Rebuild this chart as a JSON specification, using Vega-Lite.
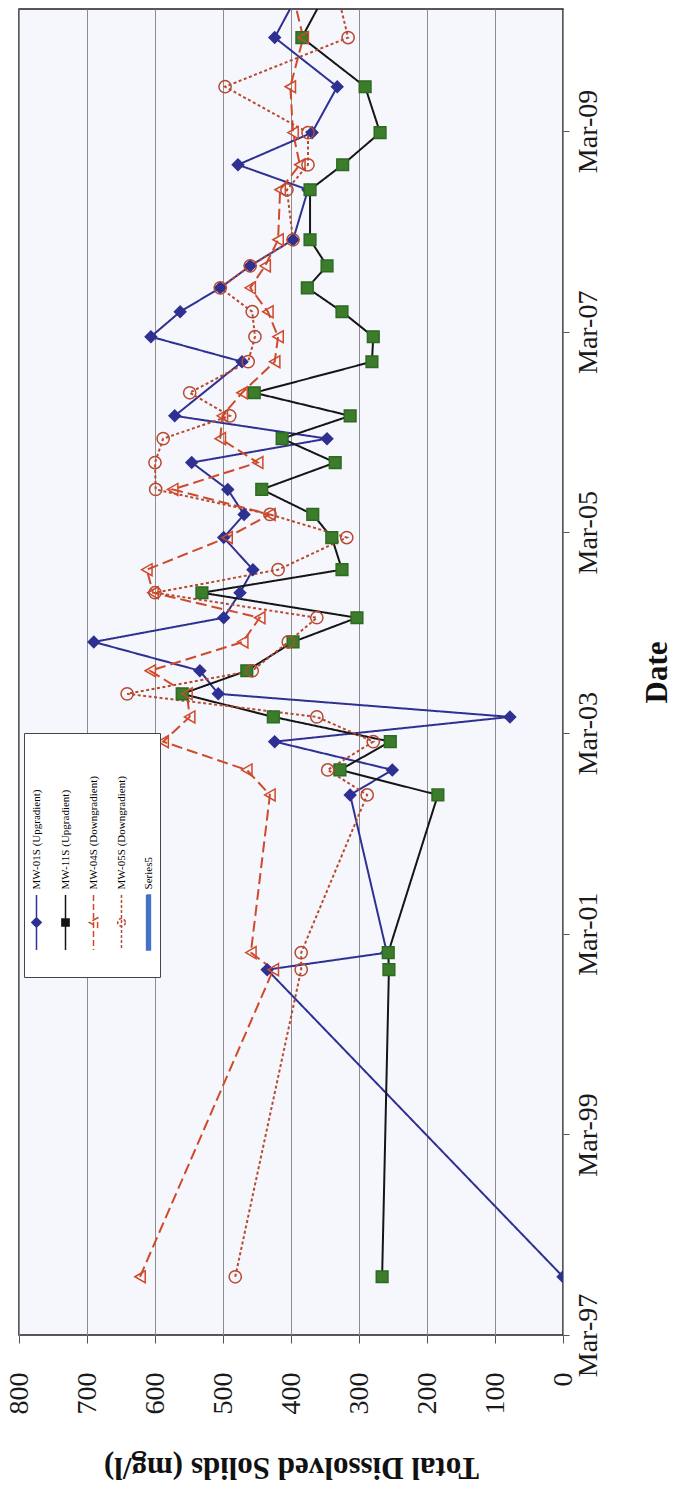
{
  "$schema": "https://vega.github.io/schema/vega-lite/v6.json",
  "autosize": {"type": "none"},
  "padding": {"left": 19, "top": 9, "right": 115, "bottom": 153},
  "width": 544,
  "height": 1326,
  "background": "white",
  "config": {
    "view": {"stroke": "#222222", "strokeWidth": 1.5, "fill": "#f6f7fc"},
    "font": "Liberation Serif"
  },
  "data": {"values": [
    {"s": "MW-01S (Upgradient)", "d": "1997-09-29", "v": 0},
    {"s": "MW-01S (Upgradient)", "d": "2000-10-21", "v": 435},
    {"s": "MW-01S (Upgradient)", "d": "2000-12-22", "v": 259},
    {"s": "MW-01S (Upgradient)", "d": "2002-07-19", "v": 313},
    {"s": "MW-01S (Upgradient)", "d": "2002-10-18", "v": 251},
    {"s": "MW-01S (Upgradient)", "d": "2003-01-29", "v": 424},
    {"s": "MW-01S (Upgradient)", "d": "2003-04-29", "v": 78},
    {"s": "MW-01S (Upgradient)", "d": "2003-07-22", "v": 507},
    {"s": "MW-01S (Upgradient)", "d": "2003-10-14", "v": 534},
    {"s": "MW-01S (Upgradient)", "d": "2004-01-27", "v": 690},
    {"s": "MW-01S (Upgradient)", "d": "2004-04-24", "v": 499},
    {"s": "MW-01S (Upgradient)", "d": "2004-07-24", "v": 475},
    {"s": "MW-01S (Upgradient)", "d": "2004-10-16", "v": 456},
    {"s": "MW-01S (Upgradient)", "d": "2005-02-10", "v": 499},
    {"s": "MW-01S (Upgradient)", "d": "2005-05-05", "v": 469},
    {"s": "MW-01S (Upgradient)", "d": "2005-08-04", "v": 493},
    {"s": "MW-01S (Upgradient)", "d": "2005-11-10", "v": 546},
    {"s": "MW-01S (Upgradient)", "d": "2006-02-05", "v": 347},
    {"s": "MW-01S (Upgradient)", "d": "2006-04-29", "v": 571},
    {"s": "MW-01S (Upgradient)", "d": "2006-11-12", "v": 472},
    {"s": "MW-01S (Upgradient)", "d": "2007-02-11", "v": 606},
    {"s": "MW-01S (Upgradient)", "d": "2007-05-13", "v": 563},
    {"s": "MW-01S (Upgradient)", "d": "2007-08-08", "v": 504},
    {"s": "MW-01S (Upgradient)", "d": "2007-10-27", "v": 460},
    {"s": "MW-01S (Upgradient)", "d": "2008-01-30", "v": 397},
    {"s": "MW-01S (Upgradient)", "d": "2008-07-30", "v": 375},
    {"s": "MW-01S (Upgradient)", "d": "2008-10-29", "v": 478},
    {"s": "MW-01S (Upgradient)", "d": "2009-02-23", "v": 369},
    {"s": "MW-01S (Upgradient)", "d": "2009-08-09", "v": 332},
    {"s": "MW-01S (Upgradient)", "d": "2010-02-04", "v": 424},
    {"s": "MW-01S (Upgradient)", "d": "2010-08-07", "v": 384},
    {"s": "MW-11S (Upgradient)", "d": "1997-09-29", "v": 266},
    {"s": "MW-11S (Upgradient)", "d": "2000-10-21", "v": 256},
    {"s": "MW-11S (Upgradient)", "d": "2000-12-22", "v": 257},
    {"s": "MW-11S (Upgradient)", "d": "2002-07-19", "v": 184},
    {"s": "MW-11S (Upgradient)", "d": "2002-10-18", "v": 328},
    {"s": "MW-11S (Upgradient)", "d": "2003-01-29", "v": 254},
    {"s": "MW-11S (Upgradient)", "d": "2003-04-29", "v": 426},
    {"s": "MW-11S (Upgradient)", "d": "2003-07-22", "v": 560},
    {"s": "MW-11S (Upgradient)", "d": "2003-10-14", "v": 465},
    {"s": "MW-11S (Upgradient)", "d": "2004-01-27", "v": 397},
    {"s": "MW-11S (Upgradient)", "d": "2004-04-24", "v": 303},
    {"s": "MW-11S (Upgradient)", "d": "2004-07-24", "v": 531},
    {"s": "MW-11S (Upgradient)", "d": "2004-10-16", "v": 325},
    {"s": "MW-11S (Upgradient)", "d": "2005-02-10", "v": 340},
    {"s": "MW-11S (Upgradient)", "d": "2005-05-05", "v": 368},
    {"s": "MW-11S (Upgradient)", "d": "2005-08-04", "v": 443},
    {"s": "MW-11S (Upgradient)", "d": "2005-11-10", "v": 335},
    {"s": "MW-11S (Upgradient)", "d": "2006-02-05", "v": 413},
    {"s": "MW-11S (Upgradient)", "d": "2006-04-29", "v": 313},
    {"s": "MW-11S (Upgradient)", "d": "2006-07-22", "v": 454},
    {"s": "MW-11S (Upgradient)", "d": "2006-11-12", "v": 281},
    {"s": "MW-11S (Upgradient)", "d": "2007-02-11", "v": 279},
    {"s": "MW-11S (Upgradient)", "d": "2007-05-13", "v": 325},
    {"s": "MW-11S (Upgradient)", "d": "2007-08-08", "v": 376},
    {"s": "MW-11S (Upgradient)", "d": "2007-10-27", "v": 347},
    {"s": "MW-11S (Upgradient)", "d": "2008-01-30", "v": 372},
    {"s": "MW-11S (Upgradient)", "d": "2008-07-30", "v": 372},
    {"s": "MW-11S (Upgradient)", "d": "2008-10-29", "v": 324},
    {"s": "MW-11S (Upgradient)", "d": "2009-02-23", "v": 269},
    {"s": "MW-11S (Upgradient)", "d": "2009-08-09", "v": 291},
    {"s": "MW-11S (Upgradient)", "d": "2010-02-04", "v": 384},
    {"s": "MW-11S (Upgradient)", "d": "2010-08-07", "v": 344},
    {"s": "MW-04S (Downgradient)", "d": "1997-09-29", "v": 622},
    {"s": "MW-04S (Downgradient)", "d": "2000-10-21", "v": 426},
    {"s": "MW-04S (Downgradient)", "d": "2000-12-22", "v": 459},
    {"s": "MW-04S (Downgradient)", "d": "2002-07-19", "v": 431},
    {"s": "MW-04S (Downgradient)", "d": "2002-10-18", "v": 465},
    {"s": "MW-04S (Downgradient)", "d": "2003-01-29", "v": 588},
    {"s": "MW-04S (Downgradient)", "d": "2003-04-29", "v": 549},
    {"s": "MW-04S (Downgradient)", "d": "2003-07-22", "v": 553},
    {"s": "MW-04S (Downgradient)", "d": "2003-10-14", "v": 607},
    {"s": "MW-04S (Downgradient)", "d": "2004-01-27", "v": 471},
    {"s": "MW-04S (Downgradient)", "d": "2004-04-24", "v": 446},
    {"s": "MW-04S (Downgradient)", "d": "2004-07-24", "v": 603},
    {"s": "MW-04S (Downgradient)", "d": "2004-10-16", "v": 612},
    {"s": "MW-04S (Downgradient)", "d": "2005-02-10", "v": 494},
    {"s": "MW-04S (Downgradient)", "d": "2005-05-05", "v": 431},
    {"s": "MW-04S (Downgradient)", "d": "2005-08-04", "v": 574},
    {"s": "MW-04S (Downgradient)", "d": "2005-11-10", "v": 449},
    {"s": "MW-04S (Downgradient)", "d": "2006-02-05", "v": 504},
    {"s": "MW-04S (Downgradient)", "d": "2006-04-29", "v": 501},
    {"s": "MW-04S (Downgradient)", "d": "2006-07-22", "v": 472},
    {"s": "MW-04S (Downgradient)", "d": "2006-11-12", "v": 424},
    {"s": "MW-04S (Downgradient)", "d": "2007-02-11", "v": 419},
    {"s": "MW-04S (Downgradient)", "d": "2007-05-13", "v": 434},
    {"s": "MW-04S (Downgradient)", "d": "2007-08-08", "v": 460},
    {"s": "MW-04S (Downgradient)", "d": "2007-10-27", "v": 438},
    {"s": "MW-04S (Downgradient)", "d": "2008-01-30", "v": 419},
    {"s": "MW-04S (Downgradient)", "d": "2008-07-30", "v": 416},
    {"s": "MW-04S (Downgradient)", "d": "2008-10-29", "v": 387},
    {"s": "MW-04S (Downgradient)", "d": "2009-02-23", "v": 397},
    {"s": "MW-04S (Downgradient)", "d": "2009-08-09", "v": 401},
    {"s": "MW-04S (Downgradient)", "d": "2010-02-04", "v": 382},
    {"s": "MW-04S (Downgradient)", "d": "2010-08-07", "v": 400},
    {"s": "MW-05S (Downgradient)", "d": "1997-09-29", "v": 482},
    {"s": "MW-05S (Downgradient)", "d": "2000-10-21", "v": 385},
    {"s": "MW-05S (Downgradient)", "d": "2000-12-22", "v": 385},
    {"s": "MW-05S (Downgradient)", "d": "2002-07-19", "v": 288},
    {"s": "MW-05S (Downgradient)", "d": "2002-10-18", "v": 346},
    {"s": "MW-05S (Downgradient)", "d": "2003-01-29", "v": 279},
    {"s": "MW-05S (Downgradient)", "d": "2003-04-29", "v": 362},
    {"s": "MW-05S (Downgradient)", "d": "2003-07-22", "v": 641},
    {"s": "MW-05S (Downgradient)", "d": "2003-10-14", "v": 457},
    {"s": "MW-05S (Downgradient)", "d": "2004-01-27", "v": 404},
    {"s": "MW-05S (Downgradient)", "d": "2004-04-24", "v": 362},
    {"s": "MW-05S (Downgradient)", "d": "2004-07-24", "v": 600},
    {"s": "MW-05S (Downgradient)", "d": "2004-10-16", "v": 419},
    {"s": "MW-05S (Downgradient)", "d": "2005-02-10", "v": 318},
    {"s": "MW-05S (Downgradient)", "d": "2005-05-05", "v": 431},
    {"s": "MW-05S (Downgradient)", "d": "2005-08-04", "v": 599},
    {"s": "MW-05S (Downgradient)", "d": "2005-11-10", "v": 600},
    {"s": "MW-05S (Downgradient)", "d": "2006-02-05", "v": 588},
    {"s": "MW-05S (Downgradient)", "d": "2006-04-29", "v": 490},
    {"s": "MW-05S (Downgradient)", "d": "2006-07-22", "v": 549},
    {"s": "MW-05S (Downgradient)", "d": "2006-11-12", "v": 463},
    {"s": "MW-05S (Downgradient)", "d": "2007-02-11", "v": 453},
    {"s": "MW-05S (Downgradient)", "d": "2007-05-13", "v": 457},
    {"s": "MW-05S (Downgradient)", "d": "2007-08-08", "v": 504},
    {"s": "MW-05S (Downgradient)", "d": "2007-10-27", "v": 460},
    {"s": "MW-05S (Downgradient)", "d": "2008-01-30", "v": 397},
    {"s": "MW-05S (Downgradient)", "d": "2008-07-30", "v": 406},
    {"s": "MW-05S (Downgradient)", "d": "2008-10-29", "v": 375},
    {"s": "MW-05S (Downgradient)", "d": "2009-02-23", "v": 375},
    {"s": "MW-05S (Downgradient)", "d": "2009-08-09", "v": 497},
    {"s": "MW-05S (Downgradient)", "d": "2010-02-04", "v": 316},
    {"s": "MW-05S (Downgradient)", "d": "2010-08-07", "v": 334}
  ]},
  "encoding": {
    "x": {
      "field": "v", "type": "quantitative",
      "scale": {"domain": [0, 800], "reverse": true, "nice": false, "zero": true},
      "axis": {
        "orient": "bottom",
        "values": [0, 100, 200, 300, 400, 500, 600, 700, 800],
        "title": "Total Dissolved Solids (mg/l)",
        "grid": true, "gridColor": "#8c8c8c", "gridWidth": 1,
        "domain": false,
        "ticks": true, "tickSize": 8, "tickColor": "#555555", "tickWidth": 1,
        "labelAngle": -90, "labelAlign": "right", "labelBaseline": "middle",
        "labelFont": "Liberation Serif", "labelFontSize": 28, "labelColor": "#1a1a1a",
        "labelPadding": 29,
        "titleAngle": 180, "titleBaseline": "bottom",
        "titleFont": "Liberation Serif", "titleFontSize": 31, "titleFontWeight": "bold", "titleColor": "#111111",
        "titlePadding": 36
      }
    },
    "y": {
      "field": "d", "type": "temporal",
      "scale": {"type": "utc", "domain": [{"year": 1997, "month": 3, "date": 1, "utc": true}, {"year": 2010, "month": 5, "date": 19, "utc": true}], "nice": false},
      "axis": {
        "orient": "right",
        "values": [
          {"year": 1997, "month": 3, "date": 1, "utc": true},
          {"year": 1999, "month": 3, "date": 1, "utc": true},
          {"year": 2001, "month": 3, "date": 1, "utc": true},
          {"year": 2003, "month": 3, "date": 1, "utc": true},
          {"year": 2005, "month": 3, "date": 1, "utc": true},
          {"year": 2007, "month": 3, "date": 1, "utc": true},
          {"year": 2009, "month": 3, "date": 1, "utc": true}
        ],
        "format": "%b-%y",
        "title": "Date",
        "grid": false, "domain": false,
        "ticks": true, "tickSize": 6, "tickColor": "#555555",
        "labelAngle": -90, "labelAlign": "center", "labelBaseline": "top",
        "labelFont": "Liberation Serif", "labelFontSize": 28, "labelColor": "#1a1a1a",
        "labelPadding": 5,
        "titleAngle": -90, "titleBaseline": "top",
        "titleFont": "Liberation Serif", "titleFontSize": 31, "titleFontWeight": "bold", "titleColor": "#111111",
        "titlePadding": 40
      }
    },
    "order": {"field": "d", "type": "temporal"}
  },
  "layer": [
    {
      "mark": {"type": "line", "strokeWidth": 2, "clip": true},
      "encoding": {
        "color": {
          "field": "s", "type": "nominal",
          "scale": {
            "domain": ["MW-01S (Upgradient)", "MW-11S (Upgradient)", "MW-04S (Downgradient)", "MW-05S (Downgradient)", "Series5"],
            "range": ["#2e3192", "#151515", "#cf4a2a", "#b84a30", "#4472c4"]
          },
          "legend": {
            "orient": "none", "legendX": 5, "legendY": 724,
            "direction": "horizontal", "columns": 5,
            "title": null,
            "fillColor": "white", "strokeColor": "#444444",
            "padding": 6,
            "symbolSize": 3025, "symbolStrokeWidth": 1.5,
            "columnPadding": 13, "rowPadding": 0,
            "labelFont": "Liberation Serif", "labelFontSize": 11, "labelColor": "#000000", "labelLimit": 300,
            "encode": {
              "symbols": {"update": {
                "x": {"value": 6.5},
                "y": {"value": 183},
                "shape": {"signal": "datum.value == 'MW-01S (Upgradient)' ? 'M0,-1L0,1M-0.17,0L0,-0.17L0.17,0L0,0.17ZM0,1.64' : datum.value == 'MW-11S (Upgradient)' ? 'M0,-1L0,1M-0.13,-0.13L0.13,-0.13L0.13,0.13L-0.13,0.13ZM0,1.64' : datum.value == 'MW-04S (Downgradient)' ? 'M0,-1L0,1M0.15,-0.17L-0.15,0L0.15,0.17ZM0,1.64' : datum.value == 'MW-05S (Downgradient)' ? 'M0,-1L0,1M0.14,0A0.14,0.14,0,1,1,-0.14,0A0.14,0.14,0,1,1,0.14,0ZM0,1.64' : 'M-0.07,-1L0.07,-1L0.07,1L-0.07,1ZM0,1.64'"},
                "fill": {"signal": "datum.value == 'MW-01S (Upgradient)' ? '#2e3192' : datum.value == 'MW-11S (Upgradient)' ? '#151515' : datum.value == 'Series5' ? '#4472c4' : 'white'"},
                "fillOpacity": {"value": 1},
                "strokeDash": {"signal": "datum.value == 'MW-04S (Downgradient)' ? [6, 3] : datum.value == 'MW-05S (Downgradient)' ? [3, 2] : [1, 0]"}
              }},
              "labels": {"update": {
                "x": {"value": 6.5},
                "y": {"value": 183},
                "angle": {"value": -90},
                "align": {"value": "left"},
                "baseline": {"value": "middle"},
                "dx": {"value": 33}
              }}
            }
          }
        },
        "strokeDash": {
          "field": "s", "type": "nominal",
          "scale": {
            "domain": ["MW-01S (Upgradient)", "MW-11S (Upgradient)", "MW-04S (Downgradient)", "MW-05S (Downgradient)"],
            "range": [[1, 0], [1, 0], [11, 5], [3, 2.5]]
          },
          "legend": null
        }
      }
    },
    {
      "mark": {"type": "point", "filled": true, "strokeWidth": 1.5, "opacity": 1, "clip": true},
      "encoding": {
        "shape": {
          "field": "s", "type": "nominal",
          "scale": {
            "domain": ["MW-01S (Upgradient)", "MW-11S (Upgradient)", "MW-04S (Downgradient)", "MW-05S (Downgradient)"],
            "range": ["diamond", "square", "triangle-left", "circle"]
          },
          "legend": null
        },
        "fill": {
          "field": "s", "type": "nominal",
          "scale": {
            "domain": ["MW-01S (Upgradient)", "MW-11S (Upgradient)", "MW-04S (Downgradient)", "MW-05S (Downgradient)"],
            "range": ["#2e3192", "#3b7d2b", "transparent", "transparent"]
          },
          "legend": null
        },
        "stroke": {
          "field": "s", "type": "nominal",
          "scale": {
            "domain": ["MW-01S (Upgradient)", "MW-11S (Upgradient)", "MW-04S (Downgradient)", "MW-05S (Downgradient)"],
            "range": ["#2e3192", "#2f6a22", "#cf4a2a", "#b84a30"]
          },
          "legend": null
        },
        "size": {
          "field": "s", "type": "nominal",
          "scale": {
            "domain": ["MW-01S (Upgradient)", "MW-11S (Upgradient)", "MW-04S (Downgradient)", "MW-05S (Downgradient)"],
            "range": [130, 150, 150, 140]
          },
          "legend": null
        }
      }
    }
  ]
}
